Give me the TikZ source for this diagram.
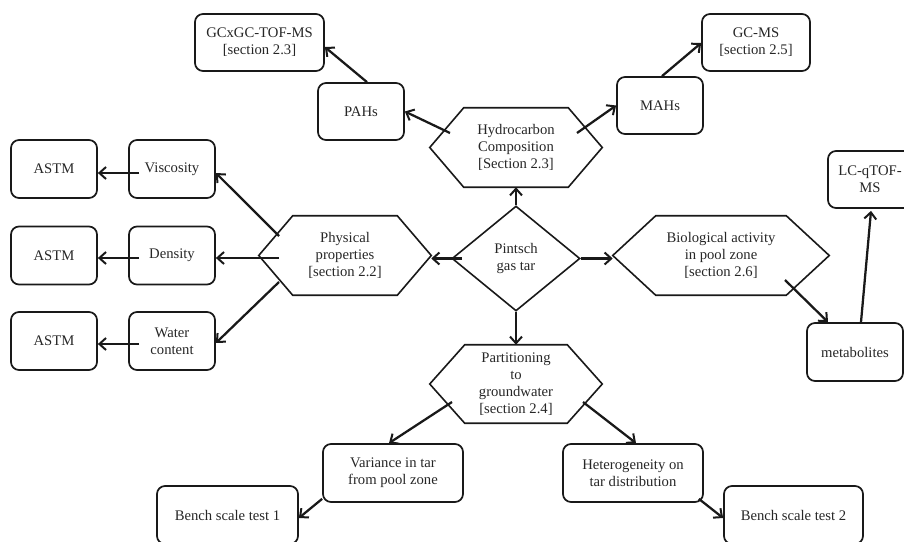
\documentclass[tikz,border=0pt]{standalone}
\usepackage{fontspec}
\setmainfont{Liberation Serif}
\usetikzlibrary{arrows.meta,calc,shapes.geometric}
\tikzset{
  txt/.style={font=\fontsize{11}{12.75}\selectfont, align=center, text=black!85},
  rbox/.style={txt, draw=black!90, line width=1.3pt, rounded corners=6pt, inner sep=0pt},
  hexnode/.style={txt, inner sep=0pt},
  outline/.style={draw=black!90, line width=1.2pt},
  arr/.style={line width=1.7pt, draw=black!90, -{Straight Barb[length=5pt,width=9pt,line width=1.5pt]}},
}
\newcommand{\hexdraw}[2]{\draw[outline] (#1.west) -- ($(#1.north west)+(#2,0)$) -- ($(#1.north east)+(-#2,0)$) -- (#1.east) -- ($(#1.south east)+(-#2,0)$) -- ($(#1.south west)+(#2,0)$) -- cycle;}
\begin{document}
\begin{tikzpicture}[x=0.75pt,y=-0.75pt]
\useasboundingbox (0,0) rectangle (904,542);
% rounded boxes
\node[rbox, minimum width=96.75pt, minimum height=42.75pt] (gcx) at (259.5,42.5) {GCxGC-TOF-MS\\{[section 2.3]}};
\node[rbox, minimum width=64.5pt, minimum height=42.75pt] (pah) at (361,111.5) {PAHs};
\node[rbox, minimum width=64.5pt, minimum height=42.75pt] (mah) at (660,105.5) {MAHs};
\node[rbox, minimum width=81pt, minimum height=42.75pt] (gcms) at (756,42.5) {GC-MS\\{[section 2.5]}};
\node[rbox, minimum width=63pt, minimum height=42.75pt] (lc) at (870,179.5) {LC-qTOF-\\MS};
\node[rbox, minimum width=64.5pt, minimum height=43.5pt] (astma) at (54,169) {ASTM};
\node[rbox, minimum width=64.5pt, minimum height=43.5pt] (astmb) at (54,255.5) {ASTM};
\node[rbox, minimum width=64.5pt, minimum height=43.5pt] (astmc) at (54,341) {ASTM};
\node[rbox, minimum width=64.5pt, minimum height=43.5pt] (visc) at (172,169) {Viscosity};
\node[rbox, minimum width=64.5pt, minimum height=43.5pt] (dens) at (172,255.5) {Density};
\node[rbox, minimum width=64.5pt, minimum height=43.5pt] (water) at (172,341) {Water\\content};
\node[rbox, minimum width=72pt, minimum height=43.5pt] (meta) at (855,352) {metabolites};
\node[rbox, minimum width=105pt, minimum height=43.5pt] (var) at (393,473) {Variance in tar\\from pool zone};
\node[rbox, minimum width=105pt, minimum height=43.5pt] (het) at (633,473) {Heterogeneity on\\tar distribution};
\node[rbox, minimum width=105.75pt, minimum height=43.5pt] (bencha) at (227.5,515) {Bench scale test 1};
\node[rbox, minimum width=104.25pt, minimum height=43.5pt] (benchb) at (793.5,515) {Bench scale test 2};
% hexagons
\node[hexnode, minimum width=129pt, minimum height=59.25pt] (hc) at (516,147.5) {Hydrocarbon\\Composition\\{[Section 2.3]}};
\hexdraw{hc}{34}
\node[hexnode, minimum width=129pt, minimum height=59.25pt] (phys) at (345,255.5) {Physical\\properties\\{[section 2.2]}};
\hexdraw{phys}{34}
\node[hexnode, minimum width=162pt, minimum height=59.25pt] (bio) at (721,255.5) {Biological activity\\in pool zone\\{[section 2.6]}};
\hexdraw{bio}{43}
\node[hexnode, minimum width=129pt, minimum height=58.5pt] (part) at (516,384) {Partitioning\\to\\groundwater\\{[section 2.4]}};
\hexdraw{part}{35}
% diamond
\node[txt, diamond, outline, inner sep=0pt, minimum width=96pt, minimum height=78.75pt] (pin) at (516,258.5) {Pintsch\\gas tar};
% connectors
\draw[arr] (pin.north) -- (hc.south);
\draw[arr] ($(pin.west)+(11,0)$) -- (phys.east |- pin.west);
\draw[arr] (pin.east) -- (bio.west |- pin.east);
\draw[arr] (pin.south) -- (part.north);
\draw[arr] ($(hc.center)+(-66,-14.5)$) -- (pah.east);
\draw[arr] ($(pah.north)+(6,0)$) -- ($(gcx.east)+(0,4.5)$);
\draw[arr] ($(hc.center)+(61,-14.5)$) -- (mah.west);
\draw[arr] ($(mah.north)+(2,0)$) -- ($(gcms.west)+(0,0.5)$);
\draw[arr] ($(phys.center)+(-66,-19.5)$) -- ($(visc.east)+(0,4)$);
\draw[arr] ($(phys.center)+(-66,2.5)$) -- ($(dens.east)+(0,2.5)$);
\draw[arr] ($(phys.center)+(-66,26.5)$) -- ($(water.east)+(0,2)$);
\draw[arr] ($(visc.west)+(11,4)$) -- ($(astma.east)+(0,4)$);
\draw[arr] ($(dens.west)+(11,2.5)$) -- ($(astmb.east)+(0,2.5)$);
\draw[arr] ($(water.west)+(11,3)$) -- ($(astmc.east)+(0,3)$);
\draw[arr] ($(bio.center)+(64,24.5)$) -- ($(meta.north)+(-27,0)$);
\draw[arr] ($(meta.north)+(6,0)$) -- ($(lc.south)+(1,2)$);
\draw[arr] ($(part.center)+(-64,18)$) -- ($(var.north)+(-4,0)$);
\draw[arr] ($(part.center)+(67,18)$) -- ($(het.north)+(3,0)$);
\draw[arr] ($(var.south west)+(0,-4)$) -- ($(bencha.east)+(0,3)$);
\draw[arr] ($(het.south east)+(-5,-4)$) -- ($(benchb.west)+(0,3)$);
\end{tikzpicture}
\end{document}
